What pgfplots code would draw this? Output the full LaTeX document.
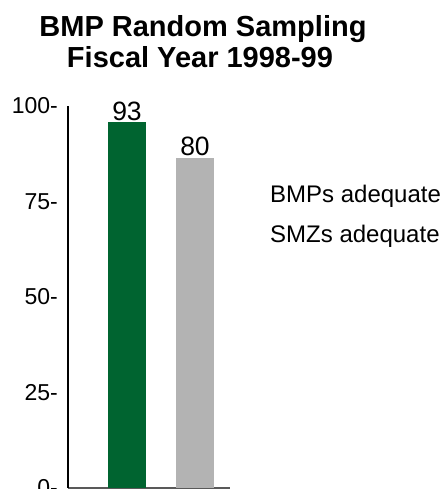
\documentclass[border=0pt]{standalone}
\usepackage{fontspec}
\setmainfont{Liberation Sans}
\usepackage{pgfplots}
\pgfplotsset{compat=1.18}
\definecolor{bmpgreen}{RGB}{0,100,48}
\definecolor{smzgray}{RGB}{179,179,179}
\begin{document}
\begin{tikzpicture}[x=1pt,y=1pt]
\begin{axis}[
  at={(0pt,0pt)}, anchor=south west,
  scale only axis, width=162pt, height=382pt,
  xmin=0, xmax=162, ymin=0, ymax=100,
  axis x line*=bottom, axis y line*=left,
  x axis line style={draw=black!65, line width=1.2pt, -},
  y axis line style={draw=black, line width=2pt, -},
  xtick=\empty,
  ytick={0,25,50,75,100},
  yticklabels={0-,25-,50-,75-,100-},
  major tick length=0pt,
  yticklabel style={font=\fontsize{23}{27}\selectfont, anchor=east, inner sep=0pt, xshift=-10pt},
  ybar, bar shift=0pt, bar width=38pt,
  nodes near coords, point meta=explicit symbolic,
  every node near coord/.append style={font=\fontsize{26.5}{30}\selectfont, anchor=south, inner sep=1.5pt, text=black},
  clip=false,
]
\addplot[fill=bmpgreen, draw=none] coordinates {(59,95.8) [93]};
\addplot[fill=smzgray, draw=none] coordinates {(127,86.4) [80]};
\end{axis}
\node[anchor=base, inner sep=0pt, font=\fontsize{29}{33}\selectfont\bfseries] at (135,451) {BMP Random Sampling};
\node[anchor=base, inner sep=0pt, font=\fontsize{29}{33}\selectfont\bfseries] at (132,420) {Fiscal Year 1998-99};
\node[anchor=base west, inner sep=0pt, font=\fontsize{24}{28}\selectfont] at (202,285) {BMPs adequate};
\node[anchor=base west, inner sep=0pt, font=\fontsize{24}{28}\selectfont] at (202,245) {SMZs adequate};
\pgfresetboundingbox
\useasboundingbox (-68,-1) rectangle (374,488);
\end{tikzpicture}
\end{document}
